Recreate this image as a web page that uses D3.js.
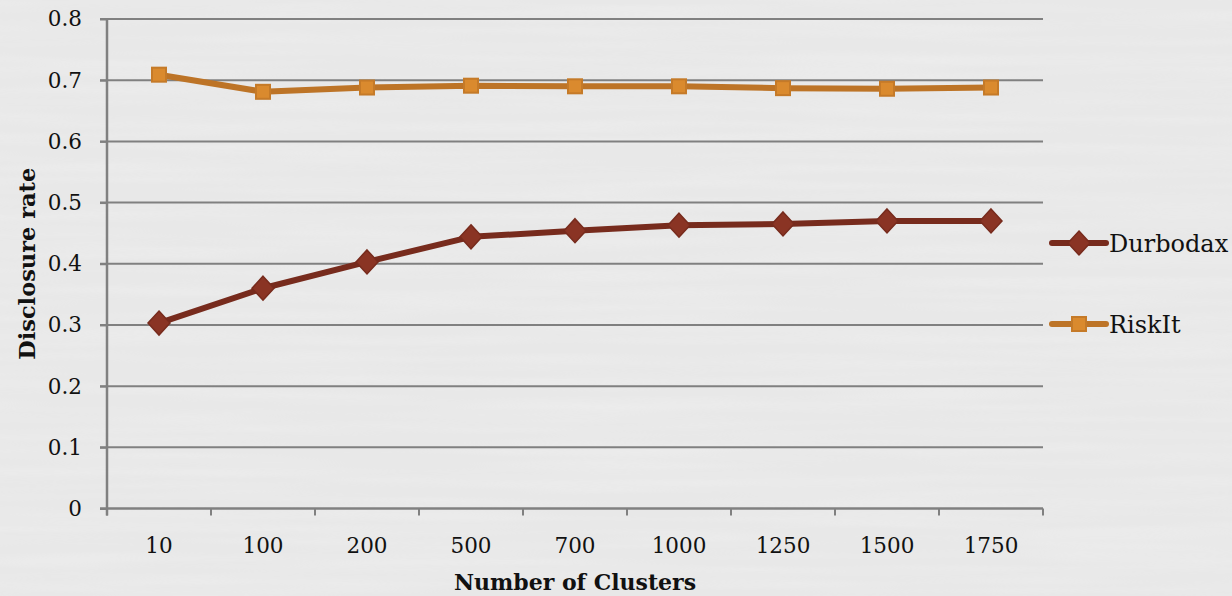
<!DOCTYPE html>
<html>
<head>
<meta charset="utf-8">
<script src="https://cdn.jsdelivr.net/npm/d3@7"></script>
<style>
  html, body { margin: 0; padding: 0; background: #e9e9e9; }
  svg { display: block; }
  text { font-family: "DejaVu Serif", "Liberation Serif", serif; fill: #111; }
</style>
</head>
<body>
<svg id="chart" width="1232" height="596"></svg>
<script>
// Cluster counts along the x axis
const clusters = ["10", "100", "200", "500", "700", "1000", "1250", "1500", "1750"];
// Disclosure rate per method
const durbodax = [0.303, 0.360, 0.403, 0.444, 0.454, 0.463, 0.465, 0.470, 0.470];
const riskit   = [0.709, 0.681, 0.688, 0.691, 0.690, 0.690, 0.687, 0.686, 0.688];
const yTicks = [0, 0.1, 0.2, 0.3, 0.4, 0.5, 0.6, 0.7, 0.8];

const series = [
  { name: "Durbodax", values: durbodax, line: "#772b1d", fill: "#8a3424", stroke: "#772b1d", shape: "diamond" },
  { name: "RiskIt",   values: riskit,   line: "#bd7427", fill: "#da8a2e", stroke: "#c57a28", shape: "square" }
];

const svg = d3.select("#chart");
const W = 1232, H = 596;

// paper-like background with faint horizontal streaks
const defs = svg.append("defs");
const f = defs.append("filter").attr("id", "paper").attr("x", 0).attr("y", 0)
  .attr("width", "100%").attr("height", "100%");
f.append("feTurbulence").attr("type", "fractalNoise").attr("baseFrequency", "0.004 0.09")
  .attr("numOctaves", 2).attr("seed", 3).attr("result", "noise");
f.append("feColorMatrix").attr("in", "noise").attr("type", "matrix")
  .attr("values", "0 0 0 0 1  0 0 0 0 1  0 0 0 0 1  0 0 0 -1.6 1.05");
svg.append("rect").attr("width", W).attr("height", H).attr("fill", "#e8e8e8");
svg.append("rect").attr("width", W).attr("height", H).attr("filter", "url(#paper)").attr("opacity", 0.18);

const m = { left: 107, right: 1043, top: 19, bottom: 508.5 };
const x = d3.scaleBand().domain(clusters).range([m.left, m.right]).padding(0);
const y = d3.scaleLinear().domain([0, 0.8]).range([m.bottom, m.top]);

const grid = "#808080";

// horizontal gridlines
svg.append("g").selectAll("line").data(yTicks.filter(d => d > 0)).join("line")
  .attr("x1", m.left - 7).attr("x2", m.right)
  .attr("y1", d => y(d)).attr("y2", d => y(d))
  .attr("stroke", grid).attr("stroke-width", 2);

// y axis
const yAxis = svg.append("g").attr("transform", `translate(${m.left},0)`)
  .call(d3.axisLeft(y).tickValues(yTicks).tickSize(7).tickPadding(18)
    .tickFormat(d => d === 0 ? "0" : d3.format(".1f")(d)));
yAxis.select(".domain").remove();
yAxis.selectAll(".tick line").attr("stroke", grid).attr("stroke-width", 2);
yAxis.selectAll(".tick text").attr("font-size", 21.5).attr("font-family", "DejaVu Serif").attr("fill", "#111");
svg.append("line").attr("x1", m.left).attr("x2", m.left)
  .attr("y1", m.top).attr("y2", m.bottom + 7)
  .attr("stroke", grid).attr("stroke-width", 2.5);

// x axis
const xg = svg.append("g").attr("transform", `translate(0,${m.bottom})`);
xg.append("line").attr("x1", m.left - 7).attr("x2", m.right)
  .attr("stroke", grid).attr("stroke-width", 2.5);
const bounds = clusters.map(c => x(c)).concat([m.right]);
xg.selectAll("line.tk").data(bounds).join("line").attr("class", "tk")
  .attr("x1", d => d).attr("x2", d => d).attr("y1", 0).attr("y2", 7)
  .attr("stroke", grid).attr("stroke-width", 2);
xg.selectAll("text").data(clusters).join("text")
  .attr("x", d => x(d) + x.bandwidth() / 2).attr("y", 44)
  .attr("text-anchor", "middle").attr("font-size", 21.5).text(d => d);

// axis titles
svg.append("text").attr("x", 575).attr("y", 590).attr("text-anchor", "middle")
  .attr("font-size", 22).attr("font-weight", "bold").text("Number of Clusters");
svg.append("text").attr("transform", `translate(35,${(m.top + m.bottom) / 2}) rotate(-90)`)
  .attr("text-anchor", "middle").attr("font-size", 22.5).attr("font-weight", "bold")
  .text("Disclosure rate");

const cx = i => x(clusters[i]) + x.bandwidth() / 2;
const line = d3.line().x((d, i) => cx(i)).y(d => y(d));

function marker(g, s, px, py) {
  if (s.shape === "diamond") {
    g.append("path")
      .attr("d", `M${px},${py - 12}L${px + 11},${py}L${px},${py + 12}L${px - 11},${py}Z`)
      .attr("fill", s.fill).attr("stroke", s.stroke).attr("stroke-width", 1.5);
  } else {
    g.append("rect").attr("x", px - 7).attr("y", py - 7).attr("width", 14).attr("height", 14)
      .attr("fill", s.fill).attr("stroke", s.stroke).attr("stroke-width", 2);
  }
}

series.forEach(s => {
  const g = svg.append("g");
  g.append("path").datum(s.values).attr("d", line)
    .attr("fill", "none").attr("stroke", s.line).attr("stroke-width", 6)
    .attr("stroke-linejoin", "round");
  s.values.forEach((v, i) => marker(g, s, cx(i), y(v)));
});

// legend
const legendY = [243, 324];
series.forEach((s, i) => {
  const g = svg.append("g");
  const ly = legendY[i];
  g.append("line").attr("x1", 1052).attr("x2", 1106).attr("y1", ly).attr("y2", ly)
    .attr("stroke", s.line).attr("stroke-width", 6).attr("stroke-linecap", "round");
  marker(g, s, 1079, ly);
  g.append("text").attr("x", 1109).attr("y", ly + 9).attr("font-size", 24).text(s.name);
});
</script>
</body>
</html>
